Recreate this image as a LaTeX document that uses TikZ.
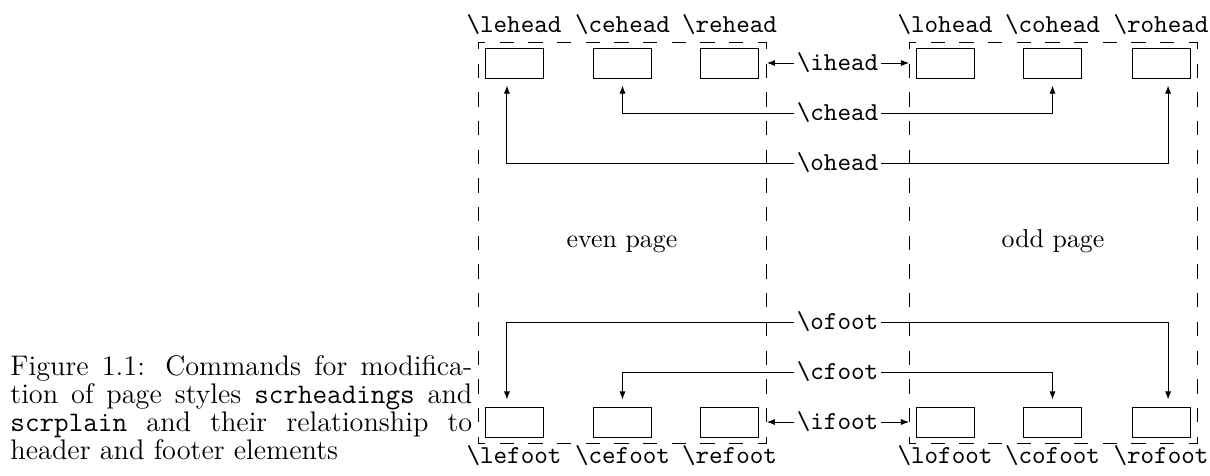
\documentclass[tikz,border=0pt]{standalone}
\usetikzlibrary{arrows.meta}
\begin{document}
\begin{tikzpicture}[x=0.4237pt,y=-0.4237pt,
  pageframe/.style={minimum width=288*0.4237pt,minimum height=401*0.4237pt,inner sep=0pt,anchor=north west},
  dashside/.style={dash pattern=on 6.08pt off 6.08pt,dash phase=3.04pt},
  slot/.style={draw,minimum width=58*0.4237pt,minimum height=30*0.4237pt,inner sep=0pt},
  lab/.style={font=\fontsize{10.95}{13.6}\selectfont\ttfamily,anchor=base,inner sep=0pt},
  cmd/.style={font=\fontsize{10.95}{13.6}\selectfont\ttfamily,inner sep=1pt},
  side/.style={font=\fontsize{10.95}{13.6}\selectfont,anchor=base},
  capline/.style={font=\fontsize{12}{12}\selectfont,anchor=base west,inner sep=0pt},
  arr/.style={-{Latex[length=3.4pt,width=2.6pt]}},
  gap/.style={shorten >=3pt}]
\useasboundingbox (0,0) rectangle (1210,475);
% frames
\node[pageframe] (even) at (478,42) {};
\node[pageframe] (odd) at (909,42) {};
\foreach \f in {even,odd}{
  \draw[dashside] (\f.north west) -- (\f.north east);
  \draw[dashside] (\f.north east) -- (\f.south east);
  \draw[dashside] (\f.south west) -- (\f.south east);
  \draw[dashside] (\f.north west) -- (\f.south west);
}
% header boxes
\node[slot] (le) at (514,63) {};
\node[slot] (ce) at (622.5,63) {};
\node[slot] (re) at (729.5,63) {};
\node[slot] (lo) at (945,63) {};
\node[slot] (co) at (1052.5,63) {};
\node[slot] (ro) at (1161,63) {};
% footer boxes
\node[slot] (lef) at (514,422) {};
\node[slot] (cef) at (622.5,422) {};
\node[slot] (ref) at (729.5,422) {};
\node[slot] (lof) at (945,422) {};
\node[slot] (cof) at (1052.5,422) {};
\node[slot] (rof) at (1161,422) {};
% header labels
\node[lab] (tle) at (514,32) {\textbackslash lehead};
\node[lab] (tce) at (622.5,32) {\textbackslash cehead};
\node[lab] (tre) at (729.5,32) {\textbackslash rehead};
\node[lab] (tlo) at (945,32) {\textbackslash lohead};
\node[lab] (tco) at (1052.5,32) {\textbackslash cohead};
\node[lab] (tro) at (1161,32) {\textbackslash rohead};
% footer labels
\node[lab] (tlef) at (514,463) {\textbackslash lefoot};
\node[lab] (tcef) at (622.5,463) {\textbackslash cefoot};
\node[lab] (tref) at (729.5,463) {\textbackslash refoot};
\node[lab] (tlof) at (945,463) {\textbackslash lofoot};
\node[lab] (tcof) at (1052.5,463) {\textbackslash cofoot};
\node[lab] (trof) at (1161,463) {\textbackslash rofoot};
% page texts
\node[side] (evtext) at (622,247) {even page};
\node[side] (odtext) at (1053,247) {odd page};
% command nodes
\node[cmd] (ihead) at (837.5,63) {\textbackslash ihead};
\node[cmd] (chead) at (837.5,113) {\textbackslash chead};
\node[cmd] (ohead) at (837.5,163) {\textbackslash ohead};
\node[cmd] (ofoot) at (837.5,322) {\textbackslash ofoot};
\node[cmd] (cfoot) at (837.5,372) {\textbackslash cfoot};
\node[cmd] (ifoot) at (837.5,422) {\textbackslash ifoot};
% connectors
\draw[arr] (ihead.west) -- (even.east |- ihead);
\draw[arr] (ihead.east) -- (odd.west |- ihead);
\draw[arr] (ifoot.west) -- (even.east |- ifoot);
\draw[arr] (ifoot.east) -- (odd.west |- ifoot);
\draw[arr,gap] (chead.west) -| (ce.south);
\draw[arr,gap] (chead.east) -| (co.south);
\draw[arr,gap] (ohead.west) -| ([xshift=-3pt]le.south);
\draw[arr,gap] (ohead.east) -| ([xshift=3pt]ro.south);
\draw[arr,gap] (cfoot.west) -| (cef.north);
\draw[arr,gap] (cfoot.east) -| (cof.north);
\draw[arr,gap] (ofoot.west) -| ([xshift=-3pt]lef.north);
\draw[arr,gap] (ofoot.east) -| ([xshift=3pt]rof.north);
% caption
\node[capline] (cap1) at (10,375) {\makebox[195.7pt][s]{Figure 1.1: Commands for modifica-}};
\node[capline] (cap2) at (10,403) {\makebox[195.7pt][s]{tion of page styles \texttt{scrheadings} and}};
\node[capline] (cap3) at (10,431) {\makebox[195.7pt][s]{\texttt{scrplain} and their relationship to}};
\node[capline] (cap4) at (10,459) {header and footer elements};
\end{tikzpicture}
\end{document}
